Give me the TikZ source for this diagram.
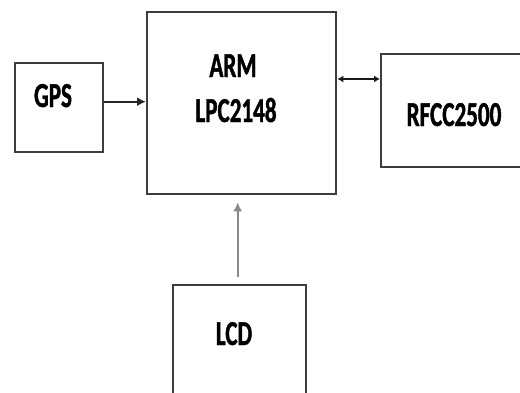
\documentclass[tikz,border=0pt]{standalone}
\usepackage{fontspec}
\newfontfamily\lab[FakeStretch=0.66, FakeBold=1.2]{Carlito}
\usetikzlibrary{arrows.meta}
\definecolor{boxline}{HTML}{3C3C3C}
\definecolor{arrline}{HTML}{8A8A8A}
\tikzset{
  blk/.style={draw=boxline, line width=2.4pt, fill=white, inner sep=0pt, anchor=north west},
  txt/.style={font=\lab\bfseries\fontsize{35}{40}\selectfont, inner sep=0pt, anchor=base, text=black},
  arr/.style={draw=black!85, line width=1.8pt, -{Latex[length=9pt,width=9pt]}},
  darr/.style={draw=black!90, line width=1.6pt, {Latex[length=6pt,width=7pt]}-{Latex[length=6pt,width=7pt]}},
}
\begin{document}
\begin{tikzpicture}[x=1pt,y=-1pt]
\clip (0,0) rectangle (520,392);
\fill[white] (0,0) rectangle (520,392);
\node[blk, minimum width=88pt, minimum height=89pt] (gps) at (14,62) {};
\node[blk, minimum width=189pt, minimum height=182pt] (arm) at (146,11) {};
\node[blk, minimum width=150pt, minimum height=113pt] (rf) at (380,53) {};
\node[blk, minimum width=133pt, minimum height=120pt] (lcd) at (172,284) {};
\node[txt] (tgps) at (53,107) {GPS};
\node[txt] (tarm) at (233,77) {ARM};
\node[txt] (tlpc) at (236,122) {LPC2148};
\node[txt] (trf) at (454,126) {RFCC2500};
\node[txt] (tlcd) at (234,345) {LCD};
\coordinate (g1) at ([yshift=6pt]gps.east);
\draw[arr] (g1) -- (g1 -| arm.west);
\coordinate (r1) at ([yshift=-26pt]rf.north west);
\draw[darr] (r1 -| arm.east) -- (r1);
\coordinate (l1) at ([xshift=-2pt]lcd.north);
\draw[arr, draw=arrline, shorten <=7pt, shorten >=7pt] (l1) -- (l1 |- arm.south);
\end{tikzpicture}
\end{document}
